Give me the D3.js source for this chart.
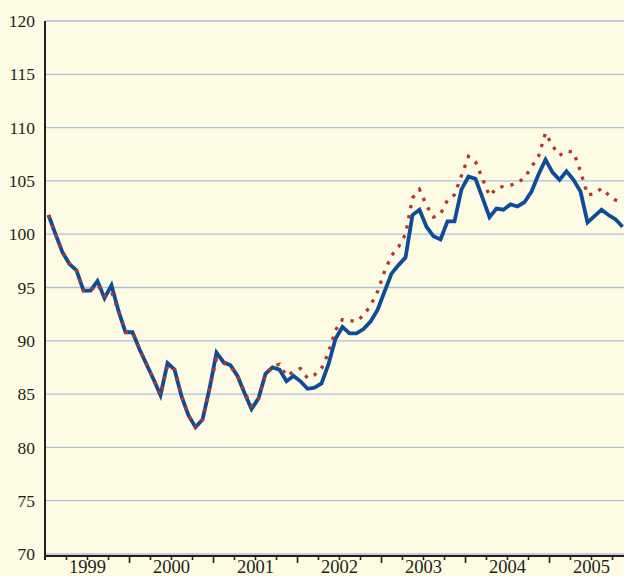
<!DOCTYPE html>
<html>
<head>
<meta charset="utf-8">
<script src="https://cdn.jsdelivr.net/npm/d3@7"></script>
<style>
  html, body { margin: 0; padding: 0; background: #fdfbe3; }
  svg { display: block; }
</style>
</head>
<body>
<svg id="chart" width="624" height="576"></svg>
<script>
// Monthly index values, January 1999 through November 2005
const startYear = 1999;
const actual = [
  101.8, 100.0, 98.3, 97.2, 96.6, 94.7, 94.7, 95.6, 94.0, 95.2, 92.8, 90.8,
  90.8, 89.2, 87.8, 86.4, 84.9, 87.9, 87.3, 84.8, 83.0, 81.9, 82.6, 85.5,
  88.9, 88.0, 87.7, 86.7, 85.1, 83.6, 84.6, 86.9, 87.5, 87.3, 86.2, 86.7,
  86.2, 85.5, 85.6, 86.0, 87.8, 90.2, 91.3, 90.7, 90.7, 91.1, 91.8, 92.9,
  94.6, 96.3, 97.1, 97.8, 101.8, 102.3, 100.7, 99.8, 99.5, 101.2, 101.2, 104.2,
  105.4, 105.2, 103.4, 101.6, 102.4, 102.3, 102.8, 102.6, 103.0, 104.0, 105.6, 107.0,
  105.8, 105.1, 105.9, 105.1, 104.0, 101.1, 101.7, 102.3, 101.8, 101.4, 100.7
];
const adjusted = [
  101.8, 100.0, 98.3, 97.2, 96.6, 94.7, 94.7, 95.3, 94.2, 94.6, 92.8, 90.8,
  90.8, 89.2, 87.8, 86.4, 84.9, 87.7, 87.3, 84.8, 83.0, 81.9, 82.6, 85.5,
  88.3, 87.9, 87.6, 86.7, 85.2, 83.9, 84.6, 86.9, 87.6, 87.8, 86.7, 87.1,
  87.4, 86.5, 86.8, 87.4, 88.9, 91.0, 92.0, 91.9, 91.8, 92.4, 93.3, 94.6,
  96.5, 98.0, 98.8, 100.0, 103.4, 104.2, 102.7, 101.6, 101.9, 103.2, 103.7, 105.5,
  107.3, 106.8, 105.2, 103.6, 104.3, 104.5, 104.6, 104.8, 105.3, 106.3, 107.3, 109.5,
  108.3, 107.4, 107.8, 107.7, 105.9, 103.7, 103.8, 104.3, 103.7, 103.2, 102.9
];
const yTicks = [70, 75, 80, 85, 90, 95, 100, 105, 110, 115, 120];
const yearLabels = [1999, 2000, 2001, 2002, 2003, 2004, 2005];

const serif = "'Liberation Serif', 'Times New Roman', Times, serif";
const svg = d3.select("#chart");
const W = 624, H = 576;
const plotLeft = 45, plotTop = 21, axisY = 556;

// x: month index scale, one year per 84 px; points sit mid-month
const x = d3.scaleLinear().domain([0, 84]).range([plotLeft, plotLeft + 588]);
const y = d3.scaleLinear().domain([70, 120]).range([554, plotTop]);

svg.append("rect").attr("width", W).attr("height", H).attr("fill", "#fdfbe3");

// horizontal gridlines
svg.append("g").selectAll("line").data(yTicks).join("line")
  .attr("x1", plotLeft).attr("x2", W)
  .attr("y1", d => y(d)).attr("y2", d => y(d))
  .attr("stroke", "#aebfdc").attr("stroke-width", 1.3);

// y axis labels
const yAxis = d3.axisLeft(y).tickValues(yTicks).tickSize(0).tickPadding(10);
const gy = svg.append("g").attr("transform", `translate(${plotLeft},0)`).call(yAxis);
gy.select(".domain").remove();
gy.attr("font-family", null);
gy.selectAll("text").style("font-family", serif).style("font-size", "17.5px").attr("fill", "#231f20");

// x axis: quarter ticks, longer marks at year boundaries
const quarterTicks = d3.range(0, 85, 3);
const gxTicks = svg.append("g").attr("transform", `translate(0,${axisY})`);
gxTicks.call(d3.axisBottom(x).tickValues(quarterTicks.filter(d => d % 12 !== 0)).tickSize(4).tickFormat(""));
gxTicks.select(".domain").remove();
const gxMajor = svg.append("g").attr("transform", `translate(0,${axisY})`);
gxMajor.call(d3.axisBottom(x).tickValues(quarterTicks.filter(d => d % 12 === 0 && d > 0)).tickSize(7).tickFormat(""));
gxMajor.select(".domain").remove();
svg.selectAll(".tick line").attr("stroke", "#231f20").attr("stroke-width", 1.6);

// year labels centred in each year
const gxLabels = svg.append("g").attr("transform", `translate(0,${axisY})`);
gxLabels.call(d3.axisBottom(x)
  .tickValues(yearLabels.map(yr => (yr - startYear) * 12 + 6))
  .tickSize(0).tickPadding(4)
  .tickFormat((d) => String(startYear + Math.floor(d / 12))));
gxLabels.select(".domain").remove();
gxLabels.attr("font-family", null);
gxLabels.selectAll("text").style("font-family", serif).style("font-size", "18.5px").attr("fill", "#231f20");

// axis lines
svg.append("line").attr("x1", plotLeft).attr("x2", W).attr("y1", axisY).attr("y2", axisY)
  .attr("stroke", "#231f20").attr("stroke-width", 1.8);
svg.append("line").attr("x1", plotLeft).attr("x2", plotLeft).attr("y1", plotTop).attr("y2", axisY + 4)
  .attr("stroke", "#231f20").attr("stroke-width", 2);

const line = d3.line().x((d, i) => x(i + 0.5)).y(d => y(d));

svg.append("path").datum(actual)
  .attr("d", line)
  .attr("fill", "none")
  .attr("stroke", "#0c4c98")
  .attr("stroke-width", 3.8)
  .attr("stroke-linejoin", "miter");

svg.append("path").datum(adjusted)
  .attr("d", line)
  .attr("fill", "none")
  .attr("stroke", "#b2362c")
  .attr("stroke-width", 3.3)
  .attr("stroke-dasharray", "3.3 7");
</script>
</body>
</html>
